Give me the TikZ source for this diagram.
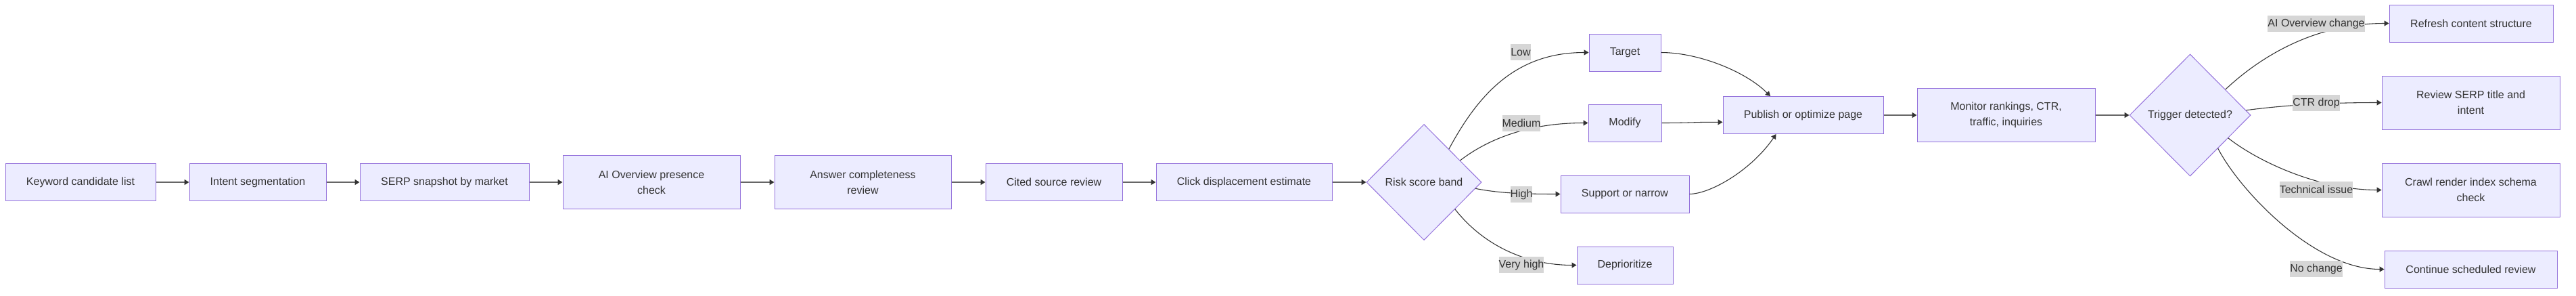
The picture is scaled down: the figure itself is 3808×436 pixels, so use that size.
\documentclass[tikz,border=0pt]{standalone}
\usepackage{fontspec}
\setmainfont{Liberation Sans}
\usepackage{tikz}
\usepackage{xcolor}
\usetikzlibrary{arrows.meta,shapes.geometric}
\definecolor{boxfill}{HTML}{ECECFF}
\definecolor{boxline}{HTML}{9370DB}
\definecolor{inkgray}{HTML}{333333}
\definecolor{linegray}{HTML}{666666}
\definecolor{tagfill}{HTML}{D6D6D6}

\begin{document}
\begin{tikzpicture}[
      x=0.75pt, y=-0.75pt,
      stage/.style={draw=boxline, fill=boxfill, line width=0.75pt, inner sep=0pt, minimum height=41.25pt, align=center, text=inkgray, font=\fontsize{12pt}{17.5pt}\selectfont},
      tall/.style={minimum height=59.25pt},
      decide/.style={diamond, aspect=1, draw=boxline, fill=boxfill, line width=0.75pt, inner sep=0pt, align=center, text=inkgray, font=\fontsize{12pt}{17.5pt}\selectfont},
      tag/.style={fill=tagfill, inner sep=0pt, minimum height=18pt, text=inkgray, font=\fontsize{12pt}{14pt}\selectfont},
      arr/.style={-{Triangle[length=5.25pt, width=6pt, color=inkgray]}, line width=1.2pt, draw=linegray},
      link/.style={-{Triangle[length=5.25pt, width=6pt, color=inkgray]}, line width=0.8pt, draw=inkgray}
  ]
    \useasboundingbox[fill=white] (0,0) rectangle (3808,436);
    \node[stage, minimum width=166.5pt] (kw) at (119,269) {Keyword candidate list};
    \node[stage, minimum width=151.5pt] (intent) at (381,269) {Intent segmentation};
    \node[stage, minimum width=187.5pt] (serp) at (657,269) {SERP snapshot by market};
    \node[stage, tall, minimum width=196.5pt] (aiov) at (963,269) {AI Overview presence\\check};
    \node[stage, tall, minimum width=195.75pt] (answer) at (1275.5,269) {Answer completeness\\review};
    \node[stage, minimum width=151.5pt] (cited) at (1558,269) {Cited source review};
    \node[stage, minimum width=195pt] (click) at (1839,269) {Click displacement estimate};
    \node[decide, minimum width=127.5pt, minimum height=128.25pt] (risk) at (2105,269) {Risk score band};
    \node[stage, minimum width=79.5pt] (target) at (2402,77.5) {Target};
    \node[stage, minimum width=81pt] (modify) at (2402,181.5) {Modify};
    \node[stage, minimum width=142.5pt] (support) at (2402,286.5) {Support or narrow};
    \node[stage, minimum width=106.5pt] (depri) at (2402,391.5) {Deprioritize};
    \node[stage, minimum width=177.75pt] (publish) at (2665.5,170) {Publish or optimize page};
    \node[stage, tall, minimum width=197.25pt] (monitor) at (2965.5,170) {Monitor rankings, CTR,\\traffic, inquiries};
    \node[decide, minimum width=134.25pt, minimum height=135pt] (trigger) at (3237.5,170) {Trigger detected?};
    \node[stage, minimum width=181.5pt] (refresh) at (3653,34.5) {Refresh content structure};
    \node[stage, tall, minimum width=197.25pt] (review) at (3652.5,151.5) {Review SERP title and\\intent};
    \node[stage, tall, minimum width=197.25pt] (crawl) at (3652.5,280.5) {Crawl render index schema\\check};
    \node[stage, minimum width=191.25pt] (cont) at (3652.5,397.5) {Continue scheduled review};
    \draw[arr] (kw) -- (intent);
    \draw[arr] (intent) -- (serp);
    \draw[arr] (serp) -- (aiov);
    \draw[arr] (aiov) -- (answer);
    \draw[arr] (answer) -- (cited);
    \draw[arr] (cited) -- (click);
    \draw[arr] (click) -- (risk);
    \draw[link] (risk.53) .. controls (2185,140) and (2240,77.5) .. (target.west);
    \draw[link] (risk.31) .. controls (2200,205) and (2260,181.5) .. (modify.west);
    \draw[link] (risk.-7) .. controls (2215,285) and (2250,286.5) .. (support.west);
    \draw[link] (risk.-41) .. controls (2195,365) and (2260,391.5) .. (depri.west);
    \draw[link] (target.east) .. controls (2510,77.5) and (2580,105) .. (publish.150);
    \draw[link] (modify.east) .. controls (2500,181.5) and (2510,180) .. (publish.185);
    \draw[link] (support.east) .. controls (2530,286) and (2590,250) .. (publish.-145);
    \draw[arr] (publish) -- (monitor);
    \draw[arr] (monitor) -- (trigger);
    \draw[link] (trigger.36) .. controls (3340,85) and (3420,34.5) .. (refresh.west);
    \draw[link] (trigger.5) .. controls (3380,155) and (3440,151.5) .. (review.west);
    \draw[link] (trigger.-31) .. controls (3340,240) and (3430,280.5) .. (crawl.west);
    \draw[link] (trigger.-50) .. controls (3310,280) and (3420,397.5) .. (cont.west);
    \node[tag] (low) at (2248,77) {Low};
    \node[tag] (medium) at (2249,182) {Medium};
    \node[tag] (high) at (2249,287) {High};
    \node[tag] (veryhigh) at (2249,391) {Very high};
    \node[tag] (aichange) at (3424,35) {AI Overview change};
    \node[tag] (ctrdrop) at (3424,152) {CTR drop};
    \node[tag] (techissue) at (3424,280) {Technical issue};
    \node[tag] (nochange) at (3424,397) {No change};
  \end{tikzpicture}
\end{document}
